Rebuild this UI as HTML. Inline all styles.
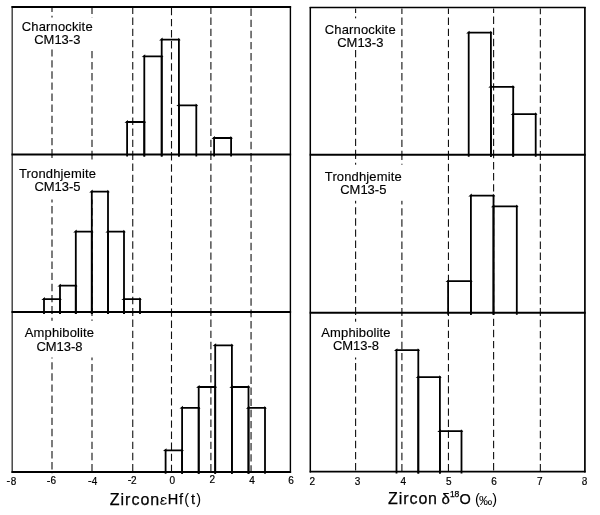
<!DOCTYPE html>
<html><head><meta charset="utf-8"><style>
html,body{margin:0;padding:0;background:#fff;width:600px;height:515px;overflow:hidden;position:relative}
</style></head><body>
<svg width="600" height="515" viewBox="0 0 600 515" style="position:absolute;left:0;top:0;will-change:transform">
<line x1="52" y1="8" x2="52" y2="156" stroke="#111" stroke-width="1.1" stroke-dasharray="7.4 3.7" stroke-dashoffset="3.3"/>
<line x1="92" y1="8" x2="92" y2="156" stroke="#111" stroke-width="1.1" stroke-dasharray="7.4 3.7" stroke-dashoffset="1.5"/>
<line x1="132.75" y1="8" x2="132.75" y2="156" stroke="#111" stroke-width="1.1" stroke-dasharray="7.4 3.7" stroke-dashoffset="1.5"/>
<line x1="171.5" y1="8" x2="171.5" y2="156" stroke="#111" stroke-width="1.1" stroke-dasharray="7.4 3.7" stroke-dashoffset="0.2"/>
<line x1="210.9" y1="8" x2="210.9" y2="156" stroke="#111" stroke-width="1.1" stroke-dasharray="7.4 3.7" stroke-dashoffset="1.5"/>
<line x1="251.05" y1="8" x2="251.05" y2="156" stroke="#111" stroke-width="1.1" stroke-dasharray="7.4 3.7" stroke-dashoffset="10.5"/>
<line x1="52" y1="155.5" x2="52" y2="313.5" stroke="#111" stroke-width="1.1" stroke-dasharray="7.4 3.7" stroke-dashoffset="4.9"/>
<line x1="92" y1="155.5" x2="92" y2="313.5" stroke="#111" stroke-width="1.1" stroke-dasharray="7.4 3.7" stroke-dashoffset="3.0"/>
<line x1="132.75" y1="155.5" x2="132.75" y2="313.5" stroke="#111" stroke-width="1.1" stroke-dasharray="7.4 3.7" stroke-dashoffset="3.0"/>
<line x1="171.5" y1="155.5" x2="171.5" y2="313.5" stroke="#111" stroke-width="1.1" stroke-dasharray="7.4 3.7" stroke-dashoffset="2.3"/>
<line x1="210.9" y1="155.5" x2="210.9" y2="313.5" stroke="#111" stroke-width="1.1" stroke-dasharray="7.4 3.7" stroke-dashoffset="3.0"/>
<line x1="251.05" y1="155.5" x2="251.05" y2="313.5" stroke="#111" stroke-width="1.1" stroke-dasharray="7.4 3.7" stroke-dashoffset="1.5"/>
<line x1="52" y1="313" x2="52" y2="473.4" stroke="#111" stroke-width="1.1" stroke-dasharray="7.4 3.7" stroke-dashoffset="6.3"/>
<line x1="92" y1="313" x2="92" y2="473.4" stroke="#111" stroke-width="1.1" stroke-dasharray="7.4 3.7" stroke-dashoffset="4.5"/>
<line x1="132.75" y1="313" x2="132.75" y2="473.4" stroke="#111" stroke-width="1.1" stroke-dasharray="7.4 3.7" stroke-dashoffset="4.5"/>
<line x1="171.5" y1="313" x2="171.5" y2="473.4" stroke="#111" stroke-width="1.1" stroke-dasharray="7.4 3.7" stroke-dashoffset="3.6"/>
<line x1="210.9" y1="313" x2="210.9" y2="473.4" stroke="#111" stroke-width="1.1" stroke-dasharray="7.4 3.7" stroke-dashoffset="4.5"/>
<line x1="251.05" y1="313" x2="251.05" y2="473.4" stroke="#111" stroke-width="1.1" stroke-dasharray="7.4 3.7" stroke-dashoffset="3.1"/>
<line x1="355.6" y1="8.5" x2="355.6" y2="156.3" stroke="#111" stroke-width="1.1" stroke-dasharray="7.4 3.7" stroke-dashoffset="3.0"/>
<line x1="401.9" y1="8.5" x2="401.9" y2="156.3" stroke="#111" stroke-width="1.1" stroke-dasharray="7.4 3.7" stroke-dashoffset="2.0"/>
<line x1="448.45" y1="8.5" x2="448.45" y2="156.3" stroke="#111" stroke-width="1.1" stroke-dasharray="7.4 3.7" stroke-dashoffset="2.0"/>
<line x1="493.6" y1="8.5" x2="493.6" y2="156.3" stroke="#111" stroke-width="1.1" stroke-dasharray="7.4 3.7" stroke-dashoffset="3.0"/>
<line x1="540.35" y1="8.5" x2="540.35" y2="156.3" stroke="#111" stroke-width="1.1" stroke-dasharray="7.4 3.7" stroke-dashoffset="1.7"/>
<line x1="355.6" y1="155.8" x2="355.6" y2="314.3" stroke="#111" stroke-width="1.1" stroke-dasharray="7.4 3.7" stroke-dashoffset="4.1"/>
<line x1="401.9" y1="155.8" x2="401.9" y2="314.3" stroke="#111" stroke-width="1.1" stroke-dasharray="7.4 3.7" stroke-dashoffset="3.1"/>
<line x1="448.45" y1="155.8" x2="448.45" y2="314.3" stroke="#111" stroke-width="1.1" stroke-dasharray="7.4 3.7" stroke-dashoffset="3.1"/>
<line x1="493.6" y1="155.8" x2="493.6" y2="314.3" stroke="#111" stroke-width="1.1" stroke-dasharray="7.4 3.7" stroke-dashoffset="4.9"/>
<line x1="540.35" y1="155.8" x2="540.35" y2="314.3" stroke="#111" stroke-width="1.1" stroke-dasharray="7.4 3.7" stroke-dashoffset="3.1"/>
<line x1="355.6" y1="313.8" x2="355.6" y2="473.1" stroke="#111" stroke-width="1.1" stroke-dasharray="7.4 3.7" stroke-dashoffset="6.2"/>
<line x1="401.9" y1="313.8" x2="401.9" y2="473.1" stroke="#111" stroke-width="1.1" stroke-dasharray="7.4 3.7" stroke-dashoffset="5.3"/>
<line x1="448.45" y1="313.8" x2="448.45" y2="473.1" stroke="#111" stroke-width="1.1" stroke-dasharray="7.4 3.7" stroke-dashoffset="5.3"/>
<line x1="493.6" y1="313.8" x2="493.6" y2="473.1" stroke="#111" stroke-width="1.1" stroke-dasharray="7.4 3.7" stroke-dashoffset="6.2"/>
<line x1="540.35" y1="313.8" x2="540.35" y2="473.1" stroke="#111" stroke-width="1.1" stroke-dasharray="7.4 3.7" stroke-dashoffset="5.1"/>
<rect x="18" y="17.5" width="79" height="32.0" fill="#fff"/>
<rect x="322" y="18.3" width="77" height="31.099999999999998" fill="#fff"/>
<rect x="16" y="159.5" width="83" height="40.0" fill="#fff"/>
<rect x="322" y="164.7" width="83" height="36.10000000000002" fill="#fff"/>
<rect x="22" y="320.8" width="75" height="36.69999999999999" fill="#fff"/>
<rect x="318" y="321.7" width="76" height="35.80000000000001" fill="#fff"/>
<path d="M127.1 156.4V122H144.3V156.4" fill="none" stroke="#000" stroke-width="1.8" stroke-linejoin="miter"/>
<path d="M124.5 122.8L128 120L128 122.9Z" fill="#000"/>
<path d="M146.1 122.6L143.8 120.1L143.4 122.9Z" fill="#000"/>
<path d="M144.3 156.4V56.3H161.7V156.4" fill="none" stroke="#000" stroke-width="1.8" stroke-linejoin="miter"/>
<path d="M141.7 57.1L145.2 54.3L145.2 57.2Z" fill="#000"/>
<path d="M163.5 56.9L161.2 54.4L160.8 57.2Z" fill="#000"/>
<path d="M161.7 156.4V39.6H178.9V156.4" fill="none" stroke="#000" stroke-width="1.8" stroke-linejoin="miter"/>
<path d="M159.1 40.4L162.6 37.6L162.6 40.5Z" fill="#000"/>
<path d="M180.7 40.2L178.4 37.7L178 40.5Z" fill="#000"/>
<path d="M178.9 156.4V105.3H196.3V156.4" fill="none" stroke="#000" stroke-width="1.8" stroke-linejoin="miter"/>
<path d="M176.3 106.1L179.8 103.3L179.8 106.2Z" fill="#000"/>
<path d="M198.1 105.9L195.8 103.4L195.4 106.2Z" fill="#000"/>
<path d="M214.1 156.4V138H231.1V156.4" fill="none" stroke="#000" stroke-width="1.8" stroke-linejoin="miter"/>
<path d="M211.5 138.8L215 136L215 138.9Z" fill="#000"/>
<path d="M232.9 138.6L230.6 136.1L230.2 138.9Z" fill="#000"/>
<path d="M44 313.9V299.1H60V313.9" fill="none" stroke="#000" stroke-width="1.8" stroke-linejoin="miter"/>
<path d="M41.4 299.9L44.9 297.1L44.9 300Z" fill="#000"/>
<path d="M61.8 299.7L59.5 297.2L59.1 300Z" fill="#000"/>
<path d="M60 313.9V285.7H75.8V313.9" fill="none" stroke="#000" stroke-width="1.8" stroke-linejoin="miter"/>
<path d="M57.4 286.5L60.9 283.7L60.9 286.6Z" fill="#000"/>
<path d="M77.6 286.3L75.3 283.8L74.9 286.6Z" fill="#000"/>
<path d="M75.8 313.9V231.6H91.8V313.9" fill="none" stroke="#000" stroke-width="1.8" stroke-linejoin="miter"/>
<path d="M73.2 232.4L76.7 229.6L76.7 232.5Z" fill="#000"/>
<path d="M93.6 232.2L91.3 229.7L90.9 232.5Z" fill="#000"/>
<path d="M91.8 313.9V191.6H108V313.9" fill="none" stroke="#000" stroke-width="1.8" stroke-linejoin="miter"/>
<path d="M89.2 192.4L92.7 189.6L92.7 192.5Z" fill="#000"/>
<path d="M109.8 192.2L107.5 189.7L107.1 192.5Z" fill="#000"/>
<path d="M108 313.9V231.6H124V313.9" fill="none" stroke="#000" stroke-width="1.8" stroke-linejoin="miter"/>
<path d="M105.4 232.4L108.9 229.6L108.9 232.5Z" fill="#000"/>
<path d="M125.8 232.2L123.5 229.7L123.1 232.5Z" fill="#000"/>
<path d="M124 313.9V299.2H140V313.9" fill="none" stroke="#000" stroke-width="1.8" stroke-linejoin="miter"/>
<path d="M121.4 300L124.9 297.2L124.9 300.1Z" fill="#000"/>
<path d="M141.8 299.8L139.5 297.3L139.1 300.1Z" fill="#000"/>
<path d="M165.6 473.8V450.3H182.1V473.8" fill="none" stroke="#000" stroke-width="1.8" stroke-linejoin="miter"/>
<path d="M163 451.1L166.5 448.3L166.5 451.2Z" fill="#000"/>
<path d="M183.9 450.9L181.6 448.4L181.2 451.2Z" fill="#000"/>
<path d="M182.1 473.8V407.8H198.7V473.8" fill="none" stroke="#000" stroke-width="1.8" stroke-linejoin="miter"/>
<path d="M179.5 408.6L183 405.8L183 408.7Z" fill="#000"/>
<path d="M200.5 408.4L198.2 405.9L197.8 408.7Z" fill="#000"/>
<path d="M198.7 473.8V387H215.2V473.8" fill="none" stroke="#000" stroke-width="1.8" stroke-linejoin="miter"/>
<path d="M196.1 387.8L199.6 385L199.6 387.9Z" fill="#000"/>
<path d="M217 387.6L214.7 385.1L214.3 387.9Z" fill="#000"/>
<path d="M215.2 473.8V345.3H231.9V473.8" fill="none" stroke="#000" stroke-width="1.8" stroke-linejoin="miter"/>
<path d="M212.6 346.1L216.1 343.3L216.1 346.2Z" fill="#000"/>
<path d="M233.7 345.9L231.4 343.4L231 346.2Z" fill="#000"/>
<path d="M231.9 473.8V387H248.5V473.8" fill="none" stroke="#000" stroke-width="1.8" stroke-linejoin="miter"/>
<path d="M229.3 387.8L232.8 385L232.8 387.9Z" fill="#000"/>
<path d="M250.3 387.6L248 385.1L247.6 387.9Z" fill="#000"/>
<path d="M248.5 473.8V407.9H265V473.8" fill="none" stroke="#000" stroke-width="1.8" stroke-linejoin="miter"/>
<path d="M245.9 408.7L249.4 405.9L249.4 408.8Z" fill="#000"/>
<path d="M266.8 408.5L264.5 406L264.1 408.8Z" fill="#000"/>
<path d="M468.7 156.7V32.7H490.9V156.7" fill="none" stroke="#000" stroke-width="1.8" stroke-linejoin="miter"/>
<path d="M466.1 33.5L469.6 30.7L469.6 33.6Z" fill="#000"/>
<path d="M492.7 33.3L490.4 30.8L490 33.6Z" fill="#000"/>
<path d="M490.9 156.7V86.8H513.2V156.7" fill="none" stroke="#000" stroke-width="1.8" stroke-linejoin="miter"/>
<path d="M488.3 87.6L491.8 84.8L491.8 87.7Z" fill="#000"/>
<path d="M515 87.4L512.7 84.9L512.3 87.7Z" fill="#000"/>
<path d="M513.2 156.7V114.2H535.7V156.7" fill="none" stroke="#000" stroke-width="1.8" stroke-linejoin="miter"/>
<path d="M510.6 115L514.1 112.2L514.1 115.1Z" fill="#000"/>
<path d="M537.5 114.8L535.2 112.3L534.8 115.1Z" fill="#000"/>
<path d="M448.1 314.7V281.2H470.9V314.7" fill="none" stroke="#000" stroke-width="1.8" stroke-linejoin="miter"/>
<path d="M445.5 282L449 279.2L449 282.1Z" fill="#000"/>
<path d="M472.7 281.8L470.4 279.3L470 282.1Z" fill="#000"/>
<path d="M470.9 314.7V195.6H493.5V314.7" fill="none" stroke="#000" stroke-width="1.8" stroke-linejoin="miter"/>
<path d="M468.3 196.4L471.8 193.6L471.8 196.5Z" fill="#000"/>
<path d="M495.3 196.2L493 193.7L492.6 196.5Z" fill="#000"/>
<path d="M493.5 314.7V206.4H516.8V314.7" fill="none" stroke="#000" stroke-width="1.8" stroke-linejoin="miter"/>
<path d="M490.9 207.2L494.4 204.4L494.4 207.3Z" fill="#000"/>
<path d="M518.6 207L516.3 204.5L515.9 207.3Z" fill="#000"/>
<path d="M396.5 473.5V350.2H418.3V473.5" fill="none" stroke="#000" stroke-width="1.8" stroke-linejoin="miter"/>
<path d="M393.9 351L397.4 348.2L397.4 351.1Z" fill="#000"/>
<path d="M420.1 350.8L417.8 348.3L417.4 351.1Z" fill="#000"/>
<path d="M418.3 473.5V377.2H439.9V473.5" fill="none" stroke="#000" stroke-width="1.8" stroke-linejoin="miter"/>
<path d="M415.7 378L419.2 375.2L419.2 378.1Z" fill="#000"/>
<path d="M441.7 377.8L439.4 375.3L439 378.1Z" fill="#000"/>
<path d="M439.9 473.5V431.1H461.5V473.5" fill="none" stroke="#000" stroke-width="1.8" stroke-linejoin="miter"/>
<path d="M437.3 431.9L440.8 429.1L440.8 432Z" fill="#000"/>
<path d="M463.3 431.7L461 429.2L460.6 432Z" fill="#000"/>
<line x1="12.2" y1="6" x2="12.2" y2="472.9" stroke="#3a3a3a" stroke-width="1.4"/>
<line x1="290.4" y1="6" x2="290.4" y2="472.9" stroke="#000" stroke-width="1.4"/>
<line x1="11.5" y1="7" x2="291.1" y2="7" stroke="#000" stroke-width="2"/>
<line x1="11.5" y1="154.5" x2="291.1" y2="154.5" stroke="#000" stroke-width="2"/>
<line x1="11.5" y1="312" x2="291.1" y2="312" stroke="#000" stroke-width="2"/>
<line x1="11.5" y1="471.9" x2="291.1" y2="471.9" stroke="#000" stroke-width="2"/>
<line x1="310.3" y1="6.9" x2="310.3" y2="472.4" stroke="#000" stroke-width="1.5"/>
<line x1="584.9" y1="6.9" x2="584.9" y2="472.4" stroke="#000" stroke-width="1.7"/>
<line x1="309.65" y1="7.5" x2="585.65" y2="7.5" stroke="#000" stroke-width="1.5"/>
<line x1="309.65" y1="154.8" x2="585.65" y2="154.8" stroke="#000" stroke-width="2.0"/>
<line x1="309.65" y1="312.8" x2="585.65" y2="312.8" stroke="#000" stroke-width="2.0"/>
<line x1="309.65" y1="471.6" x2="585.65" y2="471.6" stroke="#000" stroke-width="1.6"/>
<g transform="translate(57.3 30.5) scale(1.0484 1)"><text x="0" y="0" font-size="12.4" text-anchor="middle" font-family="Liberation Sans, sans-serif"  fill="#000" letter-spacing="0.14" stroke="#000" stroke-width="0.14">Charnockite</text></g>
<g transform="translate(57.3 44) scale(1.0484 1)"><text x="0" y="0" font-size="12.4" text-anchor="middle" font-family="Liberation Sans, sans-serif"  fill="#000" stroke="#000" stroke-width="0.14">CM13-3</text></g>
<g transform="translate(360.3 33.8) scale(1.0484 1)"><text x="0" y="0" font-size="12.4" text-anchor="middle" font-family="Liberation Sans, sans-serif"  fill="#000" letter-spacing="0.14" stroke="#000" stroke-width="0.14">Charnockite</text></g>
<g transform="translate(360.3 46.9) scale(1.0484 1)"><text x="0" y="0" font-size="12.4" text-anchor="middle" font-family="Liberation Sans, sans-serif"  fill="#000" stroke="#000" stroke-width="0.14">CM13-3</text></g>
<g transform="translate(57.5 177.6) scale(1.0484 1)"><text x="0" y="0" font-size="12.4" text-anchor="middle" font-family="Liberation Sans, sans-serif"  fill="#000" letter-spacing="0.14" stroke="#000" stroke-width="0.14">Trondhjemite</text></g>
<g transform="translate(57.5 190.9) scale(1.0484 1)"><text x="0" y="0" font-size="12.4" text-anchor="middle" font-family="Liberation Sans, sans-serif"  fill="#000" stroke="#000" stroke-width="0.14">CM13-5</text></g>
<g transform="translate(363.3 180.5) scale(1.0484 1)"><text x="0" y="0" font-size="12.4" text-anchor="middle" font-family="Liberation Sans, sans-serif"  fill="#000" letter-spacing="0.14" stroke="#000" stroke-width="0.14">Trondhjemite</text></g>
<g transform="translate(363.3 193.8) scale(1.0484 1)"><text x="0" y="0" font-size="12.4" text-anchor="middle" font-family="Liberation Sans, sans-serif"  fill="#000" stroke="#000" stroke-width="0.14">CM13-5</text></g>
<g transform="translate(59.5 337.2) scale(1.0484 1)"><text x="0" y="0" font-size="12.4" text-anchor="middle" font-family="Liberation Sans, sans-serif"  fill="#000" letter-spacing="0.14" stroke="#000" stroke-width="0.14">Amphibolite</text></g>
<g transform="translate(59.5 350.5) scale(1.0484 1)"><text x="0" y="0" font-size="12.4" text-anchor="middle" font-family="Liberation Sans, sans-serif"  fill="#000" stroke="#000" stroke-width="0.14">CM13-8</text></g>
<g transform="translate(356 337) scale(1.0484 1)"><text x="0" y="0" font-size="12.4" text-anchor="middle" font-family="Liberation Sans, sans-serif"  fill="#000" letter-spacing="0.14" stroke="#000" stroke-width="0.14">Amphibolite</text></g>
<g transform="translate(356 350.4) scale(1.0484 1)"><text x="0" y="0" font-size="12.4" text-anchor="middle" font-family="Liberation Sans, sans-serif"  fill="#000" stroke="#000" stroke-width="0.14">CM13-8</text></g>
<g transform="translate(10.72 484.6) scale(1.0 1)"><text x="0" y="0" font-size="10.0" text-anchor="start" font-family="Liberation Sans, sans-serif"  fill="#000" stroke="#000" stroke-width="0.2">8</text></g>
<g transform="translate(6.47 483.8) scale(1.1 1)"><text x="0" y="0" font-size="10.0" text-anchor="start" font-family="Liberation Sans, sans-serif"  fill="#000" stroke="#000" stroke-width="0.2">-</text></g>
<g transform="translate(50.48 484.4) scale(1.0 1)"><text x="0" y="0" font-size="10.0" text-anchor="start" font-family="Liberation Sans, sans-serif"  fill="#000" stroke="#000" stroke-width="0.2">6</text></g>
<g transform="translate(46.82 483.6) scale(1.1 1)"><text x="0" y="0" font-size="10.0" text-anchor="start" font-family="Liberation Sans, sans-serif"  fill="#000" stroke="#000" stroke-width="0.2">-</text></g>
<g transform="translate(91.65 484.7) scale(1.0 1)"><text x="0" y="0" font-size="10.0" text-anchor="start" font-family="Liberation Sans, sans-serif"  fill="#000" stroke="#000" stroke-width="0.2">4</text></g>
<g transform="translate(88.05 483.9) scale(1.1 1)"><text x="0" y="0" font-size="10.0" text-anchor="start" font-family="Liberation Sans, sans-serif"  fill="#000" stroke="#000" stroke-width="0.2">-</text></g>
<g transform="translate(131.02 483.7) scale(1.0 1)"><text x="0" y="0" font-size="10.0" text-anchor="start" font-family="Liberation Sans, sans-serif"  fill="#000" stroke="#000" stroke-width="0.2">2</text></g>
<g transform="translate(127.74 482.9) scale(1.1 1)"><text x="0" y="0" font-size="10.0" text-anchor="start" font-family="Liberation Sans, sans-serif"  fill="#000" stroke="#000" stroke-width="0.2">-</text></g>
<g transform="translate(169.62 484.3) scale(1.0 1)"><text x="0" y="0" font-size="10.0" text-anchor="start" font-family="Liberation Sans, sans-serif"  fill="#000" stroke="#000" stroke-width="0.2">0</text></g>
<g transform="translate(209.62 483.3) scale(1.0 1)"><text x="0" y="0" font-size="10.0" text-anchor="start" font-family="Liberation Sans, sans-serif"  fill="#000" stroke="#000" stroke-width="0.2">2</text></g>
<g transform="translate(249.25 484.3) scale(1.0 1)"><text x="0" y="0" font-size="10.0" text-anchor="start" font-family="Liberation Sans, sans-serif"  fill="#000" stroke="#000" stroke-width="0.2">4</text></g>
<g transform="translate(288.13 484.3) scale(1.0 1)"><text x="0" y="0" font-size="10.0" text-anchor="start" font-family="Liberation Sans, sans-serif"  fill="#000" stroke="#000" stroke-width="0.2">6</text></g>
<g transform="translate(309.42 484.7) scale(1.0 1)"><text x="0" y="0" font-size="10.0" text-anchor="start" font-family="Liberation Sans, sans-serif"  fill="#000" stroke="#000" stroke-width="0.2">2</text></g>
<g transform="translate(354.85 484.7) scale(1.0 1)"><text x="0" y="0" font-size="10.0" text-anchor="start" font-family="Liberation Sans, sans-serif"  fill="#000" stroke="#000" stroke-width="0.2">3</text></g>
<g transform="translate(400.45 484.7) scale(1.0 1)"><text x="0" y="0" font-size="10.0" text-anchor="start" font-family="Liberation Sans, sans-serif"  fill="#000" stroke="#000" stroke-width="0.2">4</text></g>
<g transform="translate(446.03 484.7) scale(1.0 1)"><text x="0" y="0" font-size="10.0" text-anchor="start" font-family="Liberation Sans, sans-serif"  fill="#000" stroke="#000" stroke-width="0.2">5</text></g>
<g transform="translate(491.29 484.7) scale(1.0 1)"><text x="0" y="0" font-size="10.0" text-anchor="start" font-family="Liberation Sans, sans-serif"  fill="#000" stroke="#000" stroke-width="0.2">6</text></g>
<g transform="translate(537.12 484.7) scale(1.0 1)"><text x="0" y="0" font-size="10.0" text-anchor="start" font-family="Liberation Sans, sans-serif"  fill="#000" stroke="#000" stroke-width="0.2">7</text></g>
<g transform="translate(581.82 485) scale(1.0 1)"><text x="0" y="0" font-size="10.0" text-anchor="start" font-family="Liberation Sans, sans-serif"  fill="#000" stroke="#000" stroke-width="0.2">8</text></g>
<rect x="581.4" y="478.4" width="2.2" height="2.6" fill="#fff" fill-opacity="0.75"/>
<text x="109.8 120.5 125.1 131.6 140.6 150.2" y="504.6" font-size="16" font-family="Liberation Sans, sans-serif"  fill="#000" stroke="#000" stroke-width="0.25">Zircon</text>
<path d="M166 498.7C165.2 497.3 162.6 497 161.7 498.3C160.9 499.6 162 500.7 163.8 500.7M163.8 500.7C161.6 500.7 160.5 501.7 160.9 503.1C161.3 504.6 164.6 504.7 166.2 503.2" fill="none" stroke="#000" stroke-width="1.15" stroke-linecap="round"/>
<text x="167.7 179.1" y="504" font-size="14.5" font-family="Liberation Sans, sans-serif"  fill="#000" stroke="#000" stroke-width="0.25">Hf</text>
<text x="184.3" y="504" font-size="14.5" font-family="Liberation Sans, sans-serif"  fill="#000" >(</text>
<text x="191" y="504" font-size="14.5" font-family="Liberation Sans, sans-serif"  fill="#000" stroke="#000" stroke-width="0.25">t</text>
<text x="196.2" y="504" font-size="14.5" font-family="Liberation Sans, sans-serif"  fill="#000" >)</text>
<text x="388.1 398.7 403.2 409.5 418.6 428" y="503.5" font-size="16" font-family="Liberation Sans, sans-serif"  fill="#000" stroke="#000" stroke-width="0.25">Zircon</text>
<text x="441.6" y="503.5" font-size="15" font-family="Liberation Sans, sans-serif"  fill="#000" stroke="#000" stroke-width="0.25">δ</text>
<text x="449.95 454.4" y="496.8" font-size="8.5" font-family="Liberation Sans, sans-serif"  fill="#000" stroke="#000" stroke-width="0.25">18</text>
<text x="459.5" y="503.5" font-size="14.5" font-family="Liberation Sans, sans-serif"  fill="#000" stroke="#000" stroke-width="0.25">O</text>
<text x="475.1" y="503.6" font-size="14.5" font-family="Liberation Sans, sans-serif"  fill="#000" >(</text>
<g transform="scale(1.06 1)"><text x="451.89" y="504.6" font-size="12.5" font-family="Liberation Sans, sans-serif"  fill="#000" >‰</text></g>
<text x="492.3" y="503.6" font-size="14.5" font-family="Liberation Sans, sans-serif"  fill="#000" >)</text>
</svg>
</body></html>
